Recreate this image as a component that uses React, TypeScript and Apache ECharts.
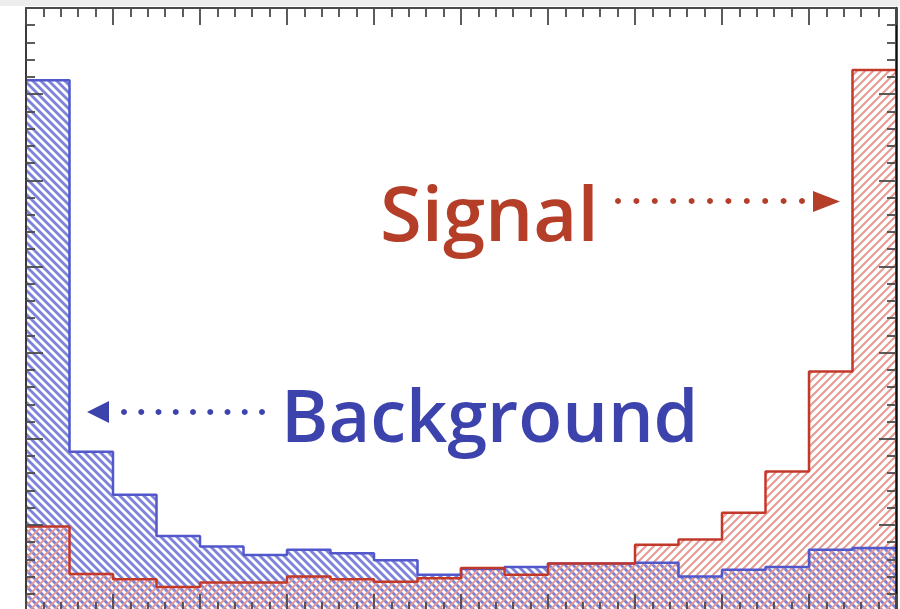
import React, { useEffect, useRef } from "react";
import * as echarts from "echarts";

// Low edge of each of the 20 bins on the discriminant axis
const binLow = [
  0.0, 0.05, 0.1, 0.15, 0.2, 0.25, 0.3, 0.35, 0.4, 0.45,
  0.5, 0.55, 0.6, 0.65, 0.7, 0.75, 0.8, 0.85, 0.9, 0.95,
];
const binUpper = 1.0;

// Normalised bin contents
const background = [
  0.616, 0.185, 0.135, 0.087, 0.075, 0.065, 0.071, 0.067, 0.059, 0.042,
  0.049, 0.051, 0.055, 0.055, 0.056, 0.04, 0.048, 0.051, 0.071, 0.073,
];
const signal = [
  0.098, 0.043, 0.037, 0.028, 0.033, 0.033, 0.04, 0.037, 0.034, 0.038,
  0.05, 0.042, 0.055, 0.055, 0.077, 0.083, 0.114, 0.162, 0.278, 0.628,
];

const BLUE_LINE = "#5257cc";
const BLUE_HATCH = "#7d83d9";
const RED_LINE = "#c2392a";
const RED_HATCH = "#e59a93";
const BLUE_TEXT = "#3d43ad";
const RED_TEXT = "#b53e29";

function hatch(color: string, dir: "back" | "fwd", width: number) {
  const s = 8;
  const c = document.createElement("canvas");
  c.width = s;
  c.height = s;
  const ctx = c.getContext("2d")!;
  ctx.strokeStyle = color;
  ctx.lineWidth = width;
  for (let k = -1; k <= 2; k++) {
    ctx.beginPath();
    if (dir === "back") {
      ctx.moveTo(-2, -2 + k * s);
      ctx.lineTo(s + 2, s + 2 + k * s);
    } else {
      ctx.moveTo(-2, k * s + 2);
      ctx.lineTo(s + 2, k * s - s - 2);
    }
    ctx.stroke();
  }
  return { image: c, repeat: "repeat", imageWidth: s, imageHeight: s } as any;
}

function stepData(values: number[]) {
  const pts = binLow.map((x, i) => [x, values[i]]);
  pts.push([binUpper, values[values.length - 1]]);
  return pts;
}

function dots(x0: number, x1: number, y: number, n: number, r: number, fill: string) {
  const out: any[] = [];
  for (let i = 0; i < n; i++) {
    out.push({
      type: "circle",
      shape: { cx: x0 + ((x1 - x0) * i) / (n - 1), cy: y, r },
      style: { fill },
      z: 20,
    });
  }
  return out;
}

export default function App() {
  const ref = useRef<HTMLDivElement>(null);

  useEffect(() => {
    document.body.style.margin = "0";
    document.documentElement.style.overflow = "hidden";
    const chart = echarts.init(ref.current!, undefined, { renderer: "svg" });

    const frameAxis = (extra: any, lineColor = "#3a3a3a", lineWidth = 2) => ({
      type: "value",
      z: 10,
      axisLine: { show: true, onZero: false, lineStyle: { color: lineColor, width: lineWidth } },
      axisTick: { show: true, inside: true, length: 17, lineStyle: { color: "#4a4a4a", width: 1.8 } },
      minorTick: { show: true, splitNumber: 5, length: 9, lineStyle: { color: "#4a4a4a", width: 1.8 } },
      axisLabel: { show: false },
      splitLine: { show: false },
      ...extra,
    });

    chart.setOption({
      animation: false,
      backgroundColor: "#ffffff",
      grid: { left: 26, right: 4, top: 8, bottom: 1 },
      xAxis: [
        frameAxis({ position: "bottom", min: 0, max: 1, interval: 0.1 }),
        frameAxis({ position: "top", min: 0, max: 1, interval: 0.1 }, "#4a4a4a", 2),
      ],
      yAxis: [
        frameAxis({ position: "left", min: 0, max: 0.7, interval: 0.1 }, "#3a3a3a", 2),
        frameAxis({ position: "right", min: 0, max: 0.7, interval: 0.1 }, "#111111", 2.5),
      ],
      series: [
        {
          name: "Background fill",
          type: "line",
          step: "end",
          data: stepData(background),
          showSymbol: false,
          lineStyle: { width: 0 },
          areaStyle: { color: hatch(BLUE_HATCH, "back", 2.8), opacity: 1 },
          z: 2,
        },
        {
          name: "Signal fill",
          type: "line",
          step: "end",
          data: stepData(signal),
          showSymbol: false,
          lineStyle: { width: 0 },
          areaStyle: { color: hatch(RED_HATCH, "fwd", 2.0), opacity: 1 },
          z: 3,
        },
        {
          name: "Background",
          type: "line",
          step: "end",
          data: stepData(background),
          showSymbol: false,
          lineStyle: { color: BLUE_LINE, width: 2.5 },
          z: 4,
        },
        {
          name: "Signal",
          type: "line",
          step: "end",
          data: stepData(signal),
          showSymbol: false,
          lineStyle: { color: RED_LINE, width: 2.5 },
          z: 5,
        },
      ],
      graphic: [
        { type: "rect", shape: { x: 0, y: 0, width: 900, height: 6 }, style: { fill: "#ededed" }, z: 20 },
        {
          type: "text",
          x: 380,
          y: 211,
          style: {
            text: "Signal",
            font: "600 76px 'Open Sans'",
            fill: RED_TEXT,
            align: "left",
            verticalAlign: "middle",
          },
          z: 20,
        },
        ...dots(618, 802, 201, 11, 3, RED_TEXT),
        {
          type: "polygon",
          shape: { points: [[813, 191], [840, 201.5], [813, 212]] },
          style: { fill: RED_TEXT },
          z: 20,
        },
        {
          type: "text",
          x: 281,
          y: 414,
          style: {
            text: "Background",
            font: "600 72px 'Open Sans'",
            fill: BLUE_TEXT,
            align: "left",
            verticalAlign: "middle",
          },
          z: 20,
        },
        ...dots(124, 262, 412, 9, 3, BLUE_TEXT),
        {
          type: "polygon",
          shape: { points: [[109, 401], [87, 412], [109, 423]] },
          style: { fill: BLUE_TEXT },
          z: 20,
        },
      ],
    });

    return () => chart.dispose();
  }, []);

  return (
    <div
      ref={ref}
      style={{ position: "fixed", left: 0, top: 0, width: 900, height: 612 }}
    />
  );
}
